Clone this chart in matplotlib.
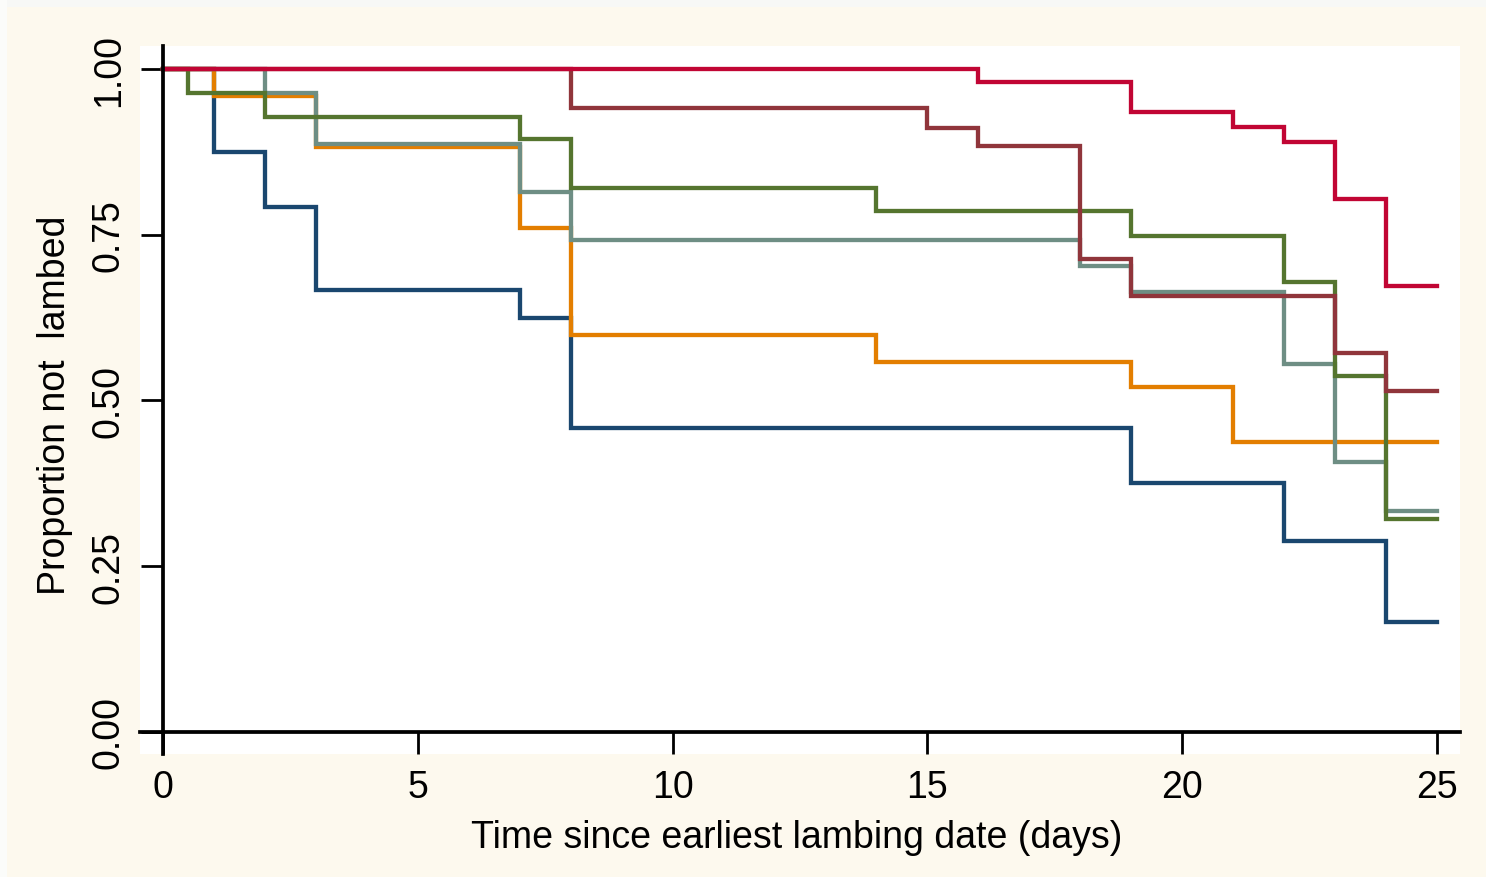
import numpy as np
import matplotlib
matplotlib.use('Agg')
import matplotlib.pyplot as plt
from matplotlib.patches import Rectangle

plt.rcParams['font.family'] = ['Liberation Sans', 'DejaVu Sans']

# step curves: event times and survival proportion after each step
red_t = [0, 16, 19, 21, 22, 23, 24, 25]
red_s = [1.0, 0.980, 0.935, 0.912, 0.890, 0.804, 0.673, 0.673]

maroon_t = [0, 8, 15, 16, 18, 19, 23, 24, 25]
maroon_s = [1.0, 0.941, 0.911, 0.884, 0.713, 0.657, 0.572, 0.514, 0.514]

green_t = [0, 0.5, 2, 7, 8, 14, 19, 22, 23, 24, 25]
green_s = [1.0, 0.964, 0.928, 0.894, 0.820, 0.786, 0.748, 0.679, 0.537, 0.321, 0.321]

teal_t = [0, 2, 3, 7, 8, 18, 19, 22, 23, 24, 25]
teal_s = [1.0, 0.964, 0.887, 0.814, 0.742, 0.703, 0.664, 0.555, 0.407, 0.333, 0.333]

orange_t = [0, 1, 3, 7, 8, 14, 19, 21, 25]
orange_s = [1.0, 0.959, 0.882, 0.760, 0.599, 0.558, 0.520, 0.437, 0.437]

blue_t = [0, 1, 2, 3, 7, 8, 19, 22, 24, 25]
blue_s = [1.0, 0.875, 0.792, 0.667, 0.625, 0.458, 0.375, 0.288, 0.166, 0.166]

series = [
    (blue_t, blue_s, '#1a476f'),
    (orange_t, orange_s, '#e37e00'),
    (teal_t, teal_s, '#6e8e84'),
    (green_t, green_s, '#55752f'),
    (maroon_t, maroon_s, '#90353b'),
    (red_t, red_s, '#c10534'),
]

x_ticks = [0, 5, 10, 15, 20, 25]
y_ticks = [0.0, 0.25, 0.5, 0.75, 1.0]
y_labels = ['0.00', '0.25', '0.50', '0.75', '1.00']

W, H = 1486, 878
fig = plt.figure(figsize=(W / 100, H / 100), dpi=100, facecolor='#fdf9ee')
# thin white border at top/left like the screenshot
fig.patches.append(Rectangle((0, 1 - 8 / H), 1, 8 / H, transform=fig.transFigure,
                             facecolor='#f7f8f6', edgecolor='none', zorder=0))
fig.patches.append(Rectangle((0, 0), 7 / W, 1, transform=fig.transFigure,
                             facecolor='#fbfcfa', edgecolor='none', zorder=0))

left, right, top, bottom = 140, 1460, 47, 755
ax = fig.add_axes([left / W, 1 - bottom / H, (right - left) / W, (bottom - top) / H])
ax.set_facecolor('white')

for t, s, c in series:
    ax.step(t, s, where='post', color=c, lw=3.1, solid_joinstyle='miter')

ax.set_xlim(-0.45, 25.45)
ax.set_ylim(-0.0332, 1.0347)

for side in ['top', 'right']:
    ax.spines[side].set_visible(False)
ax.spines['left'].set_position(('data', 0))
ax.spines['bottom'].set_position(('data', 0))
ax.spines['left'].set_linewidth(2.7)
ax.spines['bottom'].set_linewidth(2.7)

ax.set_xticks(x_ticks)
ax.set_xticklabels([str(v) for v in x_ticks])
ax.set_yticks(y_ticks)
ax.set_yticklabels(y_labels, rotation=90, va='center')
ax.tick_params(axis='both', direction='out', length=16, width=2.0, labelsize=27)
ax.tick_params(axis='y', pad=10)
ax.tick_params(axis='x', pad=11)

fig.text(797 / W, 1 - 838 / H, 'Time since earliest lambing date (days)',
         ha='center', va='center', fontsize=27)
fig.text(55 / W, 1 - 405 / H, 'Proportion not  lambed', rotation=90,
         ha='center', va='center', fontsize=27)

fig.savefig('out.png', dpi=100, facecolor=fig.get_facecolor())
